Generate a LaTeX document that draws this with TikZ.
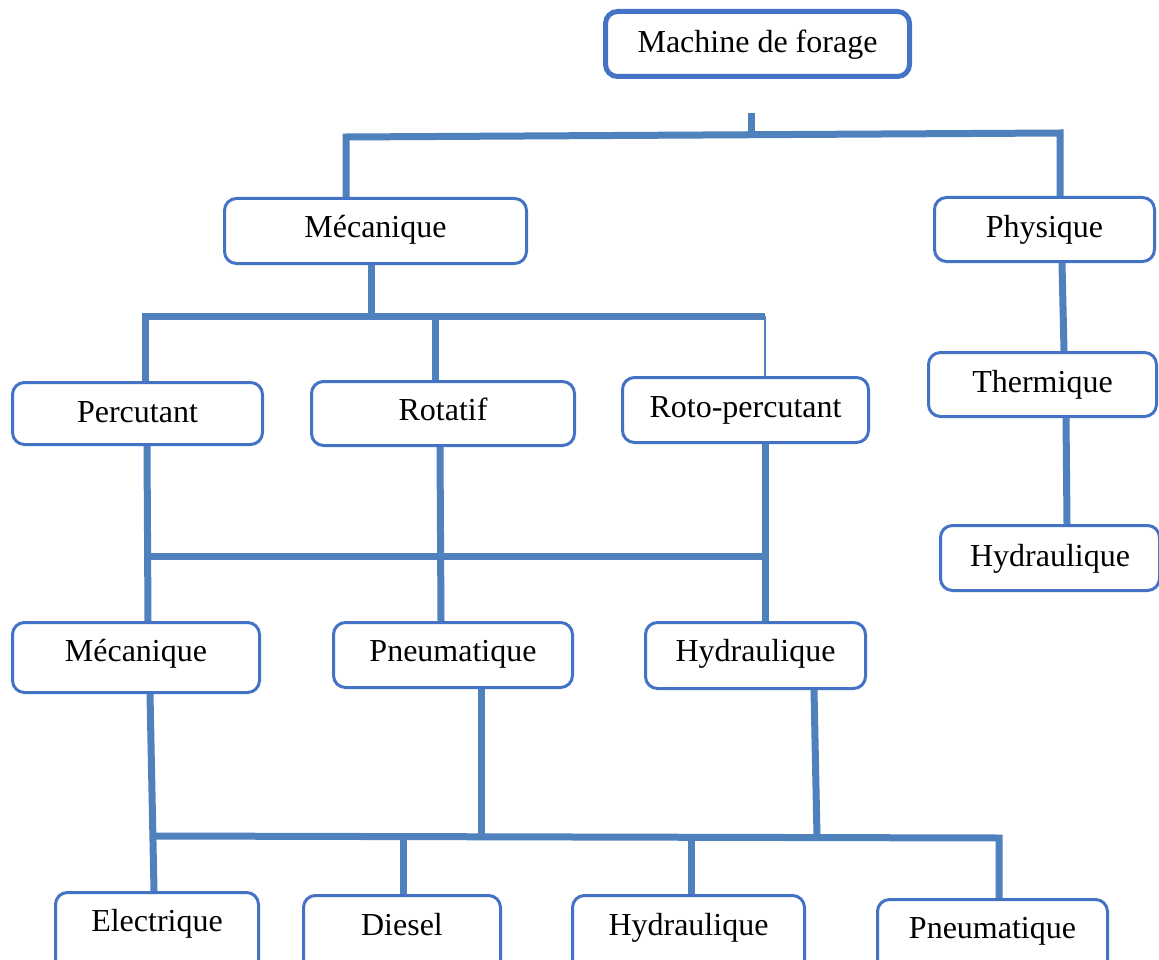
\documentclass[tikz,border=0pt]{standalone}
\usepackage{fontspec}
\setmainfont{Liberation Serif}
\definecolor{boxblue}{HTML}{4472C4}
\definecolor{lineblue}{HTML}{4F81BD}
\newcommand{\mkbox}[8][]{%
  \pgfmathsetmacro{\bxcx}{(#3+#4)/2}%
  \pgfmathsetmacro{\bxw}{#4-#3-3}%
  \pgfmathsetmacro{\bxth}{#7-#5-1.5}%
  \pgfmathsetmacro{\bxtd}{#6-#7-1.5}%
  \node[box, #1, anchor=base, minimum width=\bxw pt, text height=\bxth pt, text depth=\bxtd pt] (#2) at (\bxcx,#7) {#8};}
\begin{document}
\begin{tikzpicture}[x=1pt,y=-1pt,
  box/.style={draw=boxblue, line width=3pt, rounded corners=12pt, fill=white, inner xsep=0pt, inner ysep=0pt, font=\fontsize{32}{37}\selectfont},
  conn/.style={draw=lineblue, line width=7pt, line join=miter},
  thinconn/.style={draw=lineblue, line width=2pt}]
\useasboundingbox[fill=white] (0,0) rectangle (1159,960);
% boxes: name, L, R, T, B, baseline, text
\mkbox[line width=5pt]{top}{604}{911}{10}{78}{53}{Machine de forage}
\mkbox{mecA}{223}{528}{197}{265}{237}{Mécanique}
\mkbox{phys}{933}{1156}{196}{263}{237}{Physique}
\mkbox{perc}{11}{264}{381}{446}{422}{Percutant}
\mkbox{rota}{310}{576}{380}{447}{420}{Rotatif}
\mkbox{roto}{621}{870}{376}{444}{417}{Roto-percutant}
\mkbox{therm}{927}{1158}{351}{418}{392}{Thermique}
\mkbox{hydR}{939}{1161}{524}{592}{566}{Hydraulique}
\mkbox{mecB}{11}{261}{621}{694}{661}{Mécanique}
\mkbox{pneu}{332}{574}{621}{689}{661}{Pneumatique}
\mkbox{hydM}{644}{867}{621}{690}{661}{Hydraulique}
\mkbox{elec}{54}{260}{891}{975}{931}{Electrique}
\mkbox{dies}{302}{502}{894}{975}{935}{Diesel}
\mkbox{hydB}{571}{806}{894}{975}{935}{Hydraulique}
\mkbox{pneuB}{876}{1109}{898}{975}{938}{Pneumatique}
% junction coordinates
\coordinate (s0) at (751,113);
\coordinate (s1) at (751,135);
\coordinate (a1) at (346,137);
\coordinate (a2) at (1060,133);
\coordinate (b0) at (371,316);
\coordinate (b1) at (145,316);
\coordinate (b2) at (435,316);
\coordinate (b3) at (765,316);
\coordinate (p1) at (1062,300);
\coordinate (p2) at (1066,470);
\coordinate (c1) at (147,556);
\coordinate (c2) at (440,556);
\coordinate (c3) at (765,556);
\coordinate (d1) at (153,836);
\coordinate (d2) at (481,836);
\coordinate (d3) at (817,837);
\coordinate (d4) at (999,838);
\coordinate (e2) at (403,837);
\coordinate (e3) at (691,837);
% level 0 -> 1
\draw[conn] (s0) -- (s1);
\draw[conn] (a1 |- mecA.north) -- (a1) -- (a2) -- (a2 |- phys.north);
% Mecanique -> level 2
\draw[conn] (b0 |- mecA.south) -- (b0);
\draw[conn] (b1 |- perc.north) -- (b1) -- (b3);
\draw[conn] (b2) -- (b2 |- rota.north);
\draw[thinconn] (b3) -- (b3 |- roto.north);
% Physique branch
\draw[conn] (p1 |- phys.south) -- ([xshift=2pt]p1 |- therm.north);
\draw[conn] (p2 |- therm.south) -- ([xshift=1pt]p2 |- hydR.north);
% level 2 -> 3
\draw[conn] (c1 |- perc.south) -- ([xshift=1pt]c1 |- mecB.north);
\draw[conn] (c2 |- rota.south) -- ([xshift=1pt]c2 |- pneu.north);
\draw[conn] (c3 |- roto.south) -- (c3 |- hydM.north);
\draw[conn] (c1) -- (c3);
% level 3 -> 4
\draw[conn] ([xshift=-3pt]d1 |- mecB.south) -- ([xshift=1pt]d1 |- elec.north);
\draw[conn] (d2 |- pneu.south) -- (d2);
\draw[conn] ([xshift=-3pt]d3 |- hydM.south) -- (d3);
\draw[conn] (d1) -- (d4) -- (d4 |- pneuB.north);
\draw[conn] (e2) -- (e2 |- dies.north);
\draw[conn] (e3) -- (e3 |- hydB.north);
\end{tikzpicture}
\end{document}
